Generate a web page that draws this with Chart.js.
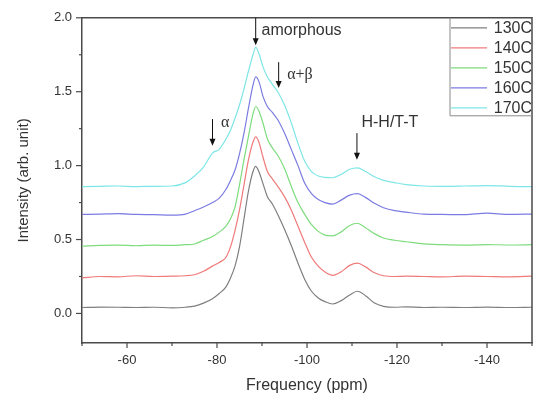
<!DOCTYPE html>
<html>
<head>
<meta charset="utf-8">
<title>Intensity vs Frequency</title>
<script src="https://cdn.jsdelivr.net/npm/chart.js@4.4.1/dist/chart.umd.min.js"></script>
<style>
  html, body { margin: 0; padding: 0; background: #fff; }
  #wrap { width: 542px; height: 398px; }
</style>
</head>
<body>
<div id="wrap"><canvas id="chart" width="542" height="398"></canvas></div>
<script>
// Frequency (ppm) sample positions shared by all spectra
const freq = [-50, -54, -58, -62, -66, -70, -73, -75, -77, -79, -80.5, -82, -83, -84, -85, -86, -87, -88, -88.6,
  -89.3, -90.2, -91.2, -92.3, -93.5, -95, -96.5, -98, -99.5, -101, -102.5, -104, -105.7, -107.5, -109.5, -111.2,
  -113, -115, -117, -119.5, -122, -126, -130, -135, -140, -145, -150];

const labels = ['130C', '140C', '150C', '160C', '170C'];

const s130 = [0.040, 0.043, 0.042, 0.040, 0.042, 0.038, 0.042, 0.050, 0.070, 0.100, 0.135, 0.180, 0.240, 0.320, 0.450,
  0.640, 0.830, 0.960, 0.995, 0.960, 0.880, 0.790, 0.740, 0.670, 0.570, 0.460, 0.340, 0.230, 0.150, 0.105, 0.080,
  0.064, 0.085, 0.125, 0.150, 0.120, 0.070, 0.048, 0.042, 0.045, 0.040, 0.042, 0.040, 0.043, 0.040, 0.042];
const s140 = [0.240, 0.250, 0.248, 0.255, 0.250, 0.252, 0.255, 0.262, 0.285, 0.320, 0.345, 0.380, 0.450, 0.560, 0.700,
  0.870, 1.040, 1.160, 1.195, 1.160, 1.060, 0.960, 0.910, 0.860, 0.790, 0.700, 0.590, 0.480, 0.380, 0.320, 0.280,
  0.258, 0.280, 0.325, 0.340, 0.315, 0.275, 0.255, 0.250, 0.252, 0.250, 0.248, 0.252, 0.250, 0.248, 0.252];
const s150 = [0.455, 0.460, 0.462, 0.458, 0.462, 0.460, 0.465, 0.470, 0.495, 0.520, 0.550, 0.590, 0.640, 0.720, 0.870,
  1.040, 1.200, 1.350, 1.400, 1.370, 1.290, 1.180, 1.120, 1.070, 0.980, 0.860, 0.750, 0.670, 0.600, 0.555, 0.530,
  0.525, 0.550, 0.595, 0.610, 0.580, 0.540, 0.510, 0.495, 0.485, 0.470, 0.465, 0.462, 0.466, 0.463, 0.465];
const s160 = [0.670, 0.672, 0.675, 0.670, 0.668, 0.665, 0.672, 0.695, 0.720, 0.750, 0.780, 0.840, 0.900, 0.970, 1.080,
  1.220, 1.390, 1.545, 1.600, 1.570, 1.470, 1.400, 1.360, 1.310, 1.220, 1.110, 1.000, 0.880, 0.810, 0.770, 0.750,
  0.740, 0.765, 0.800, 0.810, 0.785, 0.745, 0.715, 0.695, 0.685, 0.672, 0.670, 0.668, 0.678, 0.670, 0.672];
const s170 = [0.858, 0.860, 0.862, 0.858, 0.860, 0.862, 0.885, 0.930, 0.990, 1.085, 1.110, 1.180, 1.240, 1.320, 1.410,
  1.520, 1.640, 1.750, 1.800, 1.760, 1.670, 1.600, 1.550, 1.500, 1.410, 1.290, 1.150, 1.030, 0.960, 0.930, 0.920,
  0.918, 0.940, 0.975, 0.985, 0.960, 0.925, 0.900, 0.885, 0.872, 0.862, 0.860, 0.862, 0.865, 0.860, 0.858];

const series = [s130, s140, s150, s160, s170];
const colors = ['#7f7f7f', '#f07a7a', '#7ddc7d', '#7b7be2', '#7ee6e6'];

// peak annotations: arrow at ppm from y0 down to y1, text anchored at (tx, ty)
const notes = [
  { text: 'amorphous', x: -88.6, y0: 2.0, y1: 1.815, tx: -89.9, ty: 1.915, serif: false },
  { text: 'α+β', x: -93.7, y0: 1.70, y1: 1.525, tx: -95.6, ty: 1.616, serif: true },
  { text: 'α', x: -79.0, y0: 1.315, y1: 1.135, tx: -80.9, ty: 1.29, serif: true },
  { text: 'H-H/T-T', x: -111.1, y0: 1.22, y1: 1.04, tx: -112.1, ty: 1.293, serif: false }
];

const AXIS = '#4a4a4a';
const TEXT = '#333';
const SANS = '"Liberation Sans", Arial, sans-serif';
const SERIF = '"Liberation Serif", "Times New Roman", serif';

// Draw tick marks, frame, legend box and annotations
const decorPlugin = {
  id: 'decor',
  afterDraw(chart) {
    const { ctx, chartArea: a, scales: { x, y } } = chart;
    ctx.save();
    ctx.strokeStyle = AXIS;
    ctx.lineWidth = 1.5;
    // frame top + right
    ctx.beginPath();
    ctx.moveTo(a.left, a.top);
    ctx.lineTo(a.right, a.top);
    ctx.lineTo(a.right, a.bottom);
    ctx.stroke();

    // x ticks
    ctx.lineWidth = 1.2;
    for (let v = -150; v <= -50; v += 10) {
      const px = x.getPixelForValue(v);
      const len = v % 20 === 0 ? 5 : 3;
      ctx.beginPath();
      ctx.moveTo(px, a.bottom);
      ctx.lineTo(px, a.bottom + len);
      ctx.stroke();
    }
    // y ticks
    for (let v = 0; v <= 2.0001; v += 0.25) {
      const py = y.getPixelForValue(v);
      const major = Math.abs(v * 2 - Math.round(v * 2)) < 1e-6;
      const len = major ? 6 : 3;
      ctx.beginPath();
      ctx.moveTo(a.left - len, py);
      ctx.lineTo(a.left, py);
      ctx.stroke();
    }

    // legend box
    const lw = 82, lh = 98;
    const lx = a.right - lw, ly = a.top;
    ctx.strokeStyle = '#8a8a8a';
    ctx.lineWidth = 1;
    ctx.beginPath();
    ctx.moveTo(lx, ly);
    ctx.lineTo(lx, ly + lh);
    ctx.lineTo(a.right, ly + lh);
    ctx.stroke();
    ctx.font = '16px ' + SANS;
    ctx.textAlign = 'right';
    ctx.textBaseline = 'middle';
    labels.forEach((lab, i) => {
      const cy = ly + 10 + i * 20;
      ctx.strokeStyle = colors[i];
      ctx.lineWidth = 1.2;
      ctx.beginPath();
      ctx.moveTo(lx + 1, cy);
      ctx.lineTo(lx + 37, cy);
      ctx.stroke();
      ctx.fillStyle = TEXT;
      ctx.fillText(lab, a.right, cy + 1);
    });

    // annotations
    ctx.strokeStyle = '#111';
    ctx.fillStyle = '#111';
    notes.forEach(n => {
      const px = x.getPixelForValue(n.x);
      const p0 = y.getPixelForValue(n.y0);
      const p1 = y.getPixelForValue(n.y1);
      ctx.lineWidth = 1;
      ctx.beginPath();
      ctx.moveTo(px, p0);
      ctx.lineTo(px, p1 - 6);
      ctx.stroke();
      ctx.beginPath();
      ctx.moveTo(px - 3, p1 - 7);
      ctx.lineTo(px + 3, p1 - 7);
      ctx.lineTo(px, p1);
      ctx.closePath();
      ctx.fill();
      ctx.fillStyle = TEXT;
      ctx.font = n.serif ? '16px ' + SERIF : '16px ' + SANS;
      ctx.textAlign = 'left';
      ctx.textBaseline = 'middle';
      ctx.fillText(n.text, x.getPixelForValue(n.tx), y.getPixelForValue(n.ty));
      ctx.fillStyle = '#111';
    });
    ctx.restore();
  }
};

document.addEventListener('DOMContentLoaded', () => {
  const ctx = document.getElementById('chart').getContext('2d');
  new Chart(ctx, {
    type: 'line',
    data: {
      datasets: series.map((s, i) => ({
        label: labels[i],
        data: freq.map((f, k) => ({ x: f, y: s[k] })),
        borderColor: colors[i],
        borderWidth: 1.2,
        pointRadius: 0,
        fill: false,
        cubicInterpolationMode: 'monotone'
      }))
    },
    options: {
      responsive: false,
      animation: false,
      layout: { padding: { top: 10, right: 7, left: 0, bottom: 0 } },
      plugins: { legend: { display: false }, tooltip: { enabled: false } },
      scales: {
        x: {
          type: 'linear',
          reverse: true,
          min: -150,
          max: -50,
          grid: { display: false, drawTicks: false },
          border: { display: true, color: AXIS, width: 1.5 },
          ticks: {
            stepSize: 10,
            autoSkip: false,
            maxRotation: 0,
            padding: 10,
            color: TEXT,
            font: { family: SANS, size: 13 },
            callback: v => (v % 20 === 0 ? String(v) : '')
          },
          title: {
            display: true,
            text: 'Frequency (ppm)',
            color: TEXT,
            font: { family: SANS, size: 16 },
            padding: { top: 0, bottom: 3 }
          },
          afterFit: s => { s.height = 55; }
        },
        y: {
          min: -0.2,
          max: 2.0,
          grid: { display: false, drawTicks: false },
          border: { display: true, color: AXIS, width: 1.5 },
          ticks: {
            stepSize: 0.5,
            padding: 10,
            color: TEXT,
            font: { family: SANS, size: 13 },
            callback: v => (Math.abs(v * 2 - Math.round(v * 2)) < 1e-6 && v >= 0 ? v.toFixed(1) : '')
          },
          title: {
            display: true,
            text: 'Intensity (arb. unit)',
            color: TEXT,
            font: { family: SANS, size: 15 },
            padding: { top: 15, bottom: 0 }
          },
          afterFit: s => { s.width = 82; }
        }
      }
    },
    plugins: [decorPlugin]
  });
});
</script>
</body>
</html>
